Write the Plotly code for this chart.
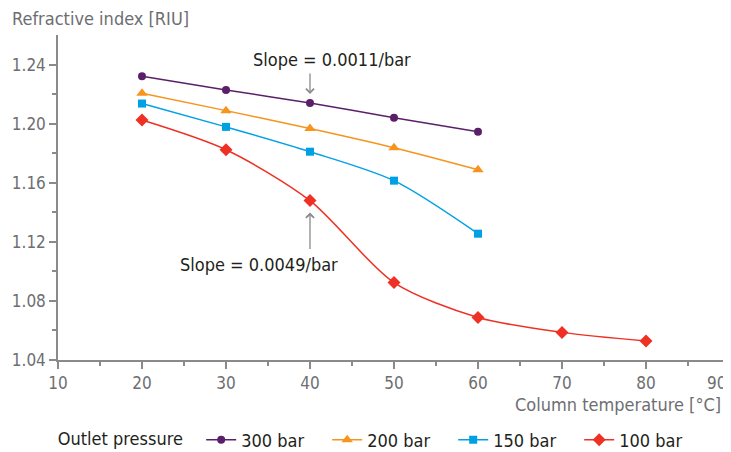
import plotly.graph_objects as go

temps_short = [20, 30, 40, 50, 60]
temps_long = [20, 30, 40, 50, 60, 70, 80]
ri_300 = [1.232, 1.2228, 1.214, 1.204, 1.1945]
ri_200 = [1.2206, 1.2088, 1.1967, 1.1837, 1.1688]
ri_150 = [1.2136, 1.1978, 1.181, 1.1614, 1.1255]
ri_100 = [1.2024, 1.1823, 1.1479, 1.0924, 1.0688, 1.0587, 1.0528]
x_ticks = [10, 20, 30, 40, 50, 60, 70, 80, 90]
y_ticks = [1.04, 1.08, 1.12, 1.16, 1.20, 1.24]

FONT = "DejaVu Sans Condensed, Liberation Sans Narrow, Arial Narrow, sans-serif"
GREY = "#6d6e71"
AXIS = "#8a8a8a"
INK = "#231f20"

series = [
    ("300 bar", temps_short, ri_300, "#5b1f69", "circle", 8),
    ("200 bar", temps_short, ri_200, "#f7941d", "triangle-up", 10),
    ("150 bar", temps_short, ri_150, "#00a1e4", "square", 8),
    ("100 bar", temps_long, ri_100, "#ee3124", "diamond", 10),
]

fig = go.Figure()
for name, xs, ys, col, sym, sz in series:
    fig.add_trace(go.Scatter(x=xs, y=ys, mode="lines+markers", name=name,
                             line=dict(color=col, width=1.5, shape="spline", smoothing=0.8),
                             marker=dict(color=col, symbol=sym, size=sz)))

# slope labels and arrows
fig.add_annotation(x=42.6, y=1.2435, text="Slope = 0.0011/bar", showarrow=False,
                   font=dict(size=18, color=INK))
fig.add_annotation(x=40, y=1.2201, ax=0, ay=-22, text="", showarrow=True,
                   arrowhead=4, arrowwidth=1.3, arrowcolor=AXIS, arrowsize=1.2)
fig.add_annotation(x=33.9, y=1.1048, text="Slope = 0.0049/bar", showarrow=False,
                   font=dict(size=18, color=INK))
fig.add_annotation(x=40, y=1.1398, ax=0, ay=38, text="", showarrow=True,
                   arrowhead=4, arrowwidth=1.3, arrowcolor=AXIS, arrowsize=1.2)

# axis titles
fig.add_annotation(xref="paper", yref="paper", x=-0.0714, y=1.052, xanchor="left", yanchor="middle",
                   text="Refractive index [RIU]", showarrow=False, font=dict(size=18, color=GREY))
fig.add_annotation(xref="paper", yref="paper", x=0.9896, y=-0.138, xanchor="right", yanchor="middle",
                   text="Column temperature [°C]", showarrow=False, font=dict(size=18, color=GREY))

# last x tick label sits at the page edge, so keep it inside the figure
fig.add_annotation(x=x_ticks[-1], yref="paper", y=-0.0708, xanchor="right", yanchor="middle",
                   xshift=-2, text=str(x_ticks[-1]), showarrow=False, font=dict(size=17, color=GREY))

fig.update_xaxes(range=[10, 90], tickvals=x_ticks,
                 ticktext=[str(v) for v in x_ticks[:-1]] + [""],
                 showgrid=False, zeroline=False, showline=True, linecolor=AXIS, linewidth=1.5,
                 ticks="outside", ticklen=7, tickcolor=AXIS, tickwidth=1.5,
                 tickfont=dict(size=17, color=GREY),
                 minor=dict(tickvals=[15, 25, 35, 45, 55, 65, 75, 85], ticks="outside",
                            ticklen=4, tickcolor=AXIS, tickwidth=1.5))
fig.update_yaxes(range=[1.04, 1.26], tickvals=y_ticks,
                 ticktext=["%.2f" % v for v in y_ticks],
                 showgrid=False, zeroline=False, showline=True, linecolor=AXIS, linewidth=1.5,
                 ticks="outside", ticklen=7, tickcolor=AXIS, tickwidth=1.5,
                 tickfont=dict(size=17, color=GREY),
                 minor=dict(tickvals=[1.06, 1.10, 1.14, 1.18, 1.22], ticks="outside",
                            ticklen=4, tickcolor=AXIS, tickwidth=1.5))

fig.update_layout(
    width=723, height=444,
    margin=dict(l=50, r=1, t=27, b=92),
    plot_bgcolor="white", paper_bgcolor="white",
    font=dict(family=FONT, size=18, color=INK),
    legend=dict(orientation="h", xref="container", yref="container",
                x=0.066, y=0.027, xanchor="left", yanchor="middle",
                title=dict(text="Outlet pressure  ", side="left", font=dict(size=18, color=INK)),
                font=dict(size=18, color=INK), itemwidth=30, entrywidth=81,
                bgcolor="rgba(0,0,0,0)"),
)

fig.write_html("out.html")
